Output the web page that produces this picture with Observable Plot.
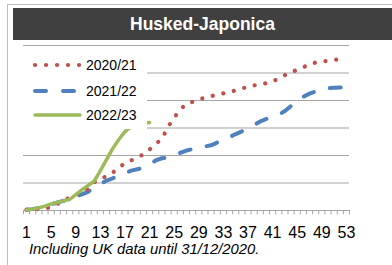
<!DOCTYPE html>
<html>
<head>
<meta charset="utf-8">
<script src="https://cdn.jsdelivr.net/npm/d3@7"></script>
<script src="https://cdn.jsdelivr.net/npm/@observablehq/plot@0.6"></script>
<style>
  html, body { margin: 0; padding: 0; background: #fff; }
  #wrap { position: relative; width: 392px; height: 265px; overflow: hidden; font-family: "Liberation Sans", Arial, sans-serif; }
  #frame { position: absolute; left: 7px; top: 4px; width: 400px; height: 300px; border-left: 1.5px solid #bdbdbd; border-top: 1.5px solid #bdbdbd; }
  #band { position: absolute; left: 13px; top: 8px; width: 379px; height: 32px; background: #404040; }
  #title { position: absolute; left: 13px; top: 8px; width: 379px; height: 32px; line-height: 32px; text-align: center; color: #fff; font-weight: bold; font-size: 17.5px; }
  #chart { position: absolute; left: 0; top: 0; }
  #legend { position: absolute; left: 22px; top: 50px; width: 125px; height: 79px; background: #fff; }
  .item { position: absolute; left: 0; height: 20px; width: 125px; }
  .item svg { position: absolute; left: 9px; top: 0; }
  .item span { position: absolute; left: 64px; top: 2px; font-size: 14px; color: #000; }
  #caption { position: absolute; left: 29px; top: 241px; font-style: italic; font-size: 14.8px; color: #000; white-space: nowrap; }
  #chart svg text { font-size: 16px; }
</style>
</head>
<body>
<div id="wrap">
  <div id="frame"></div>
  <div id="band"></div>
  <div id="title">Husked-Japonica</div>
  <div id="chart"></div>
  <div id="legend"></div>
  <div id="caption">Including UK data until 31/12/2020.</div>
</div>
<script>
const weeks = d3.range(1, 54);
const tickLabels = [1, 5, 9, 13, 17, 21, 25, 29, 33, 37, 41, 45, 49, 53];
const gridValues = [0, 1, 2, 3, 4, 5, 6];
const seriesNames = ["2020/21", "2021/22", "2022/23"];
const colors = ["#C0504D", "#4F81BD", "#9BBB59"];

const s2020 = [0.02,0.04,0.05,0.07,0.13,0.24,0.36,0.47,0.57,0.67,0.78,1.02,1.16,1.24,1.38,1.55,1.73,1.82,1.93,2.04,2.22,2.42,2.6,3.04,3.38,3.67,3.89,3.95,4.03,4.11,4.16,4.21,4.26,4.31,4.37,4.43,4.51,4.55,4.59,4.63,4.68,4.81,4.92,5.02,5.12,5.21,5.32,5.38,5.41,5.45,5.48,5.5,5.52];
const s2021 = [0.04,0.05,0.09,0.15,0.22,0.29,0.35,0.42,0.5,0.59,0.68,0.82,0.96,1.09,1.17,1.26,1.36,1.45,1.5,1.55,1.68,1.82,1.9,1.93,2.0,2.1,2.18,2.23,2.29,2.33,2.37,2.47,2.56,2.67,2.78,2.88,2.98,3.11,3.24,3.33,3.39,3.48,3.62,3.8,3.97,4.14,4.25,4.33,4.41,4.45,4.46,4.47,4.47];
const s2022 = [0.02,0.05,0.1,0.16,0.24,0.29,0.35,0.4,0.58,0.75,0.91,1.07,1.45,1.85,2.25,2.58,2.87,3.05,3.12,3.17,3.2];

const toRows = (vals) => vals.map((v, i) => ({week: weeks[i], value: v}));
const boundaries = weeks.map(w => w - 0.5).concat([weeks[weeks.length - 1] + 0.5]);

const plot = Plot.plot({
  width: 392,
  height: 265,
  marginLeft: 23,
  marginRight: 43,
  marginTop: 45,
  marginBottom: 55,
  style: {background: "transparent", fontFamily: "'Liberation Sans', Arial, sans-serif", color: "#000", fontSize: "16px", overflow: "visible"},
  x: {type: "linear", domain: [0.5, 53.5], ticks: tickLabels, tickFormat: d => String(d), tickSize: 0, tickPadding: 16, label: null},
  y: {domain: [0, 6], axis: null},
  marks: [
    Plot.ruleY(gridValues, {stroke: "#a6a6a6", strokeWidth: 1.2}),
    Plot.ruleX(boundaries, {y1: 0, y2: -0.16, stroke: "#a6a6a6", strokeWidth: 1}),
    Plot.line(toRows(s2021), {x: "week", y: "value", stroke: colors[1], strokeWidth: 4, strokeDasharray: "11 16.5", strokeLinecap: "round", strokeLinejoin: "round"}),
    Plot.line(toRows(s2020), {x: "week", y: "value", stroke: colors[0], strokeWidth: 4.2, strokeDasharray: "0.1 10.7", strokeLinecap: "round", strokeLinejoin: "round"}),
    Plot.line(toRows(s2022), {x: "week", y: "value", stroke: colors[2], strokeWidth: 3.5, strokeLinejoin: "round"})
  ]
});
plot.querySelectorAll("text").forEach(t => { t.style.fontSize = "16px"; });
document.getElementById("chart").appendChild(plot);

// legend
const legend = document.getElementById("legend");
const dashes = ["0.1 10.9", "11 17", null];
const widths = [4.2, 4, 3.5];
const tops = [5, 31, 55];
seriesNames.forEach((name, i) => {
  const item = document.createElement("div");
  item.className = "item";
  item.style.top = tops[i] + "px";
  const svg = d3.create("svg").attr("width", 52).attr("height", 20);
  svg.append("line").attr("x1", 4).attr("x2", 49).attr("y1", 10).attr("y2", 10)
    .attr("stroke", colors[i]).attr("stroke-width", widths[i])
    .attr("stroke-linecap", "round")
    .attr("stroke-dasharray", dashes[i]);
  item.appendChild(svg.node());
  const span = document.createElement("span");
  span.textContent = name;
  item.appendChild(span);
  legend.appendChild(item);
});
</script>
</body>
</html>
